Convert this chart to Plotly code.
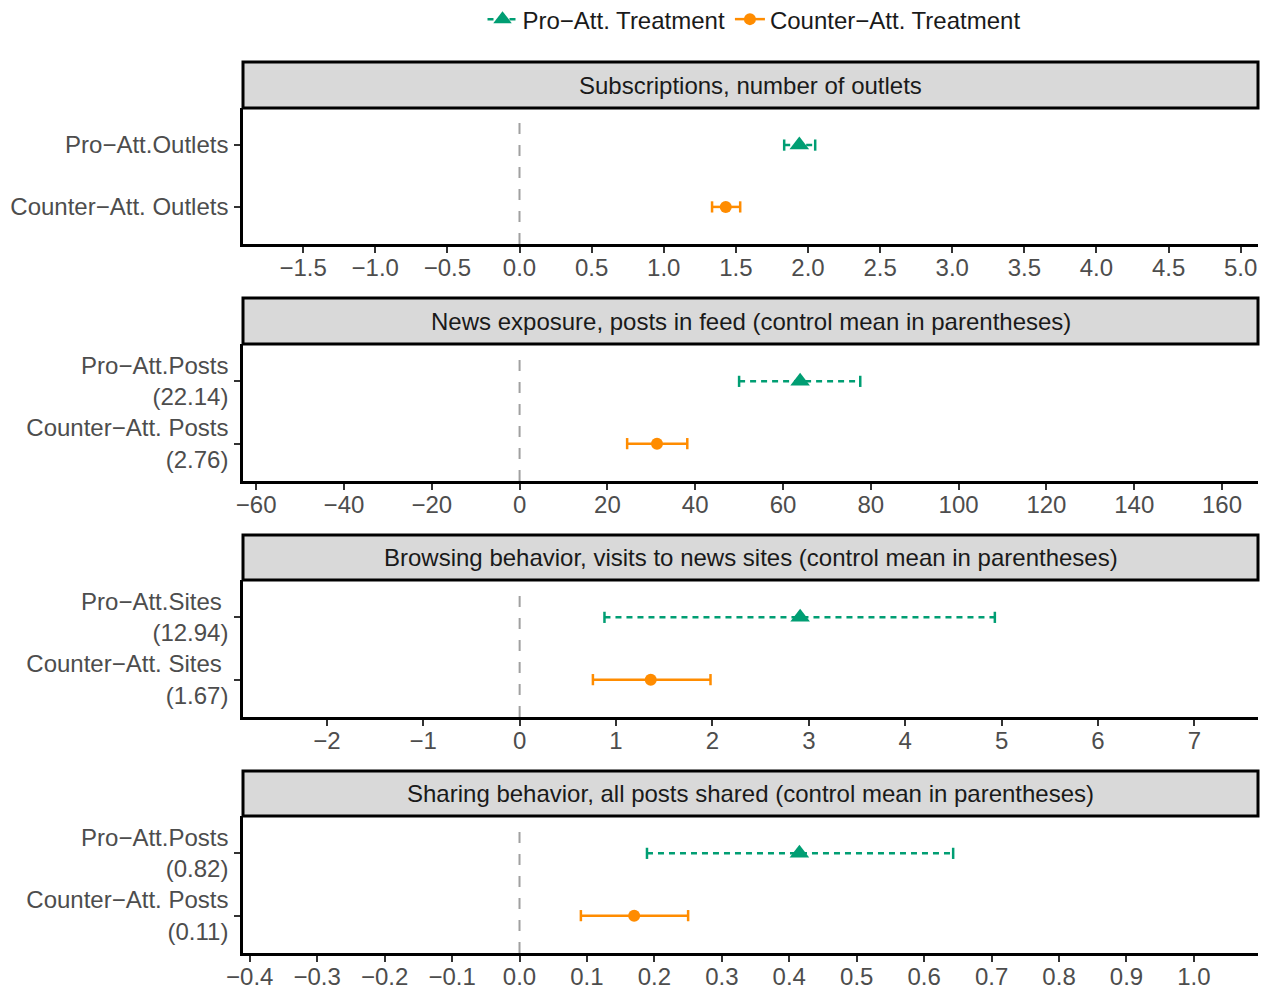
import plotly.graph_objects as go

W, H = 1270, 990

# Panel titles
panel_titles = [
    "Subscriptions, number of outlets",
    "News exposure, posts in feed (control mean in parentheses)",
    "Browsing behavior, visits to news sites (control mean in parentheses)",
    "Sharing behavior, all posts shared (control mean in parentheses)",
]

# Row labels per panel (pro-attitudinal first, counter-attitudinal second)
pro_labels = [
    "Pro\u2212Att.Outlets",
    "Pro\u2212Att.Posts<br>(22.14)",
    "Pro\u2212Att.Sites\u00a0<br>(12.94)",
    "Pro\u2212Att.Posts<br>(0.82)",
]
counter_labels = [
    "Counter\u2212Att. Outlets",
    "Counter\u2212Att. Posts<br>(2.76)",
    "Counter\u2212Att. Sites\u00a0<br>(1.67)",
    "Counter\u2212Att. Posts<br>(0.11)",
]

# Estimates and confidence intervals
pro_est = [1.94, 63.9, 2.91, 0.415]
pro_lo = [1.835, 50.0, 0.88, 0.189]
pro_hi = [2.05, 77.6, 4.93, 0.643]

counter_est = [1.43, 31.3, 1.36, 0.170]
counter_lo = [1.335, 24.5, 0.76, 0.091]
counter_hi = [1.53, 38.2, 1.98, 0.250]

# Axis ranges and tick spacing per panel
x_ranges = [(-1.917, 5.12), (-63.0, 168.2), (-2.87, 7.66), (-0.41, 1.095)]
x_dticks = [0.5, 20, 1, 0.1]
x_tick0 = [0.0, 0, 0, 0.0]
x_formats = [".1f", "d", "d", ".1f"]

# Pixel layout of panels (top of strip, strip bottom / plot top, plot bottom)
panel_px = [(62, 108, 244), (298, 344, 481), (535, 580, 717), (771, 816, 953)]
x_left_px, x_right_px = 243, 1258

GREEN = "#009E73"
ORANGE = "#FF8C00"
FONT = "Liberation Sans, Arial, sans-serif"
FS = 24

def py(px):
    return 1 - px / H

fig = go.Figure()
layout = {}
shapes = []
annotations = []

for i in range(4):
    ax = "" if i == 0 else str(i + 1)
    xa, ya = "x" + ax, "y" + ax
    top_s, top_p, bot_p = panel_px[i]

    series = [
        ("Pro\u2212Att. Treatment", pro_labels[i], pro_est[i], pro_lo[i], pro_hi[i],
         GREEN, "6px,5px", "triangle-up", 17),
        ("Counter\u2212Att. Treatment", counter_labels[i], counter_est[i], counter_lo[i],
         counter_hi[i], ORANGE, "solid", "circle", 12),
    ]
    for name, cat, est, lo, hi, col, dash, sym, msize in series:
        # confidence interval with end caps
        fig.add_trace(go.Scatter(
            x=[lo, hi], y=[cat, cat], xaxis=xa, yaxis=ya,
            mode="lines+markers",
            line=dict(color=col, width=2.5, dash=dash),
            marker=dict(symbol="line-ns-open", size=8, color=col,
                        line=dict(color=col, width=2.5)),
            showlegend=False, hoverinfo="skip", legendgroup=name,
        ))
        # point estimate (also provides the legend entry)
        fig.add_trace(go.Scatter(
            x=[est], y=[cat], xaxis=xa, yaxis=ya,
            mode="lines+markers", name=name,
            line=dict(color=col, width=2.5, dash=dash),
            marker=dict(symbol=sym, size=msize, color=col),
            showlegend=(i == 0), legendgroup=name,
        ))

    layout["xaxis" + ax] = dict(
        domain=[x_left_px / W, x_right_px / W],
        anchor=ya, range=list(x_ranges[i]),
        tickmode="linear", tick0=x_tick0[i], dtick=x_dticks[i],
        tickformat=x_formats[i],
        showgrid=False, zeroline=False, automargin=False,
        showline=True, linecolor="black", linewidth=2.5,
        ticks="outside", ticklen=6, tickwidth=2, tickcolor="#333333",
        ticklabelstandoff=-6,
        tickfont=dict(family=FONT, size=FS, color="#4d4d4d"),
        fixedrange=True,
    )
    layout["yaxis" + ax] = dict(
        domain=[py(bot_p), py(top_p)],
        anchor=xa, type="category",
        categoryorder="array", categoryarray=[counter_labels[i], pro_labels[i]],
        range=[-0.6, 1.6],
        showgrid=False, zeroline=False, automargin=False,
        showline=True, linecolor="black", linewidth=2.5,
        ticks="outside", ticklen=6, tickwidth=2, tickcolor="#333333",
        ticklabelstandoff=1,
        tickfont=dict(family=FONT, size=FS, color="#4d4d4d"),
        fixedrange=True,
    )

    # dashed reference line at zero
    shapes.append(dict(
        type="line", xref=xa, yref=ya + " domain", x0=0, x1=0, y0=0, y1=0.93,
        line=dict(color="#a0a0a0", width=2, dash="11px,11px"), layer="below",
    ))
    # strip header
    shapes.append(dict(
        type="rect", xref="paper", yref="paper",
        x0=x_left_px / W, x1=x_right_px / W, y0=py(top_p), y1=py(top_s),
        fillcolor="#d9d9d9", line=dict(color="black", width=3), layer="above",
    ))
    annotations.append(dict(
        text=panel_titles[i], xref="paper", yref="paper",
        x=(x_left_px + x_right_px) / 2 / W, y=py((top_s + top_p) / 2),
        xanchor="center", yanchor="middle", showarrow=False,
        font=dict(family=FONT, size=FS, color="#1a1a1a"),
    ))

fig.update_layout(
    width=W, height=H,
    margin=dict(l=0, r=0, t=0, b=0, autoexpand=False),
    paper_bgcolor="white", plot_bgcolor="white",
    shapes=shapes, annotations=annotations,
    legend=dict(
        orientation="h", x=754 / W, y=1.003, xanchor="center", yanchor="top",
        font=dict(family=FONT, size=FS, color="#1a1a1a"),
        itemwidth=30, tracegroupgap=0,
    ),
    **layout,
)

fig.write_html("out.html")
